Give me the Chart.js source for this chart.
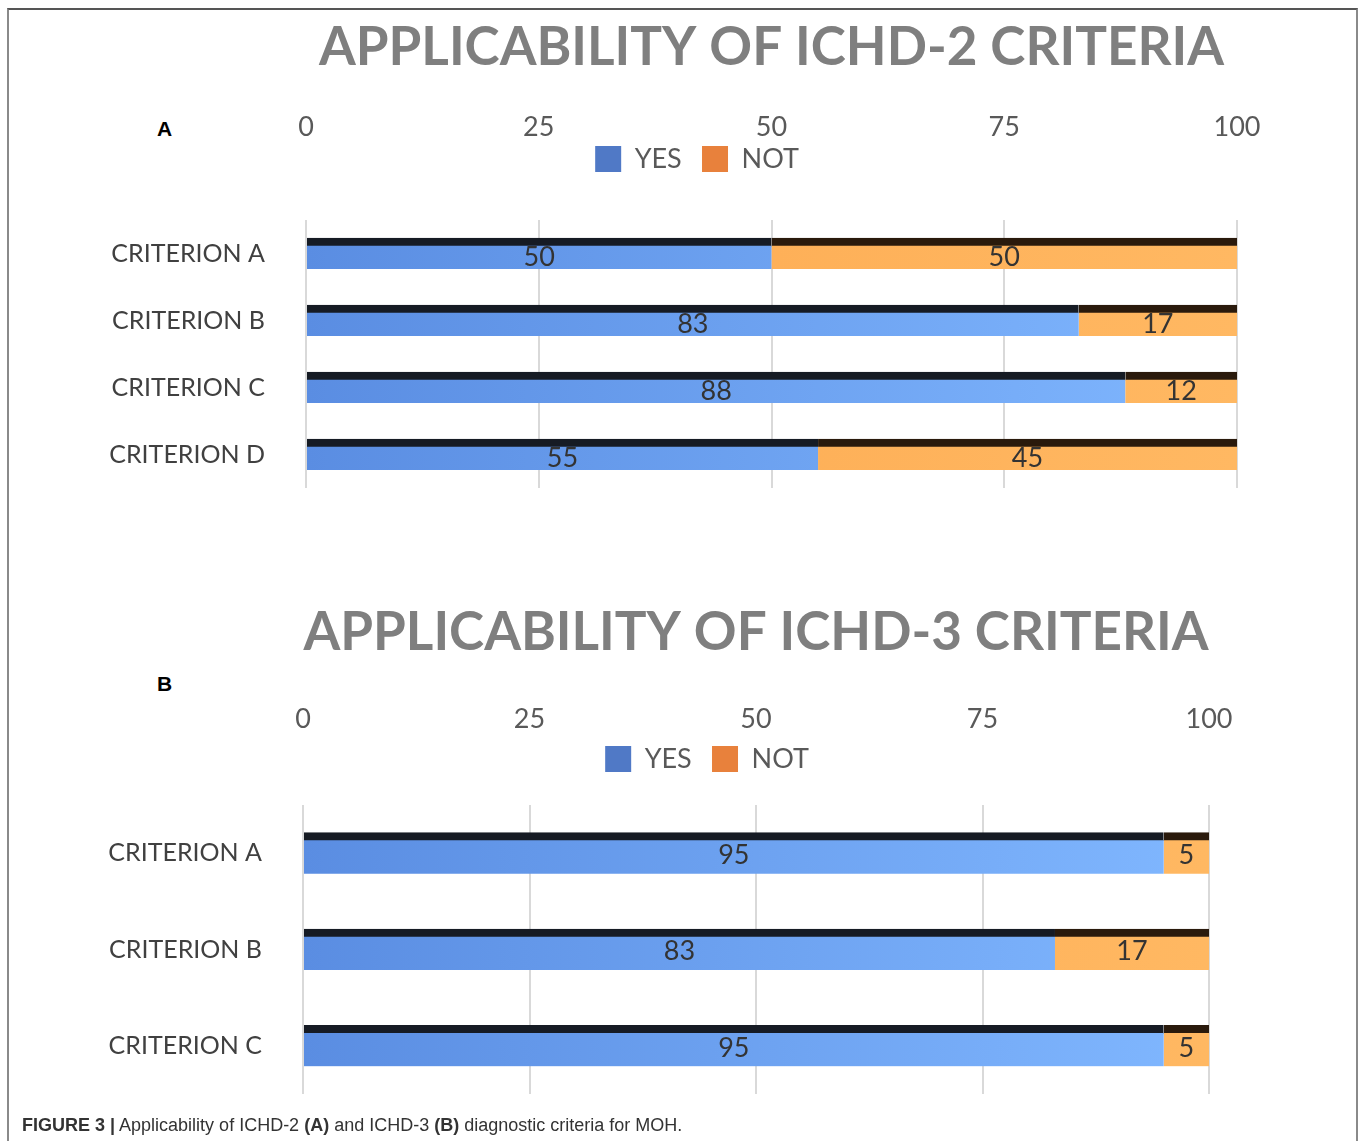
<!DOCTYPE html>
<html>
<head>
<meta charset="utf-8">
<script src="https://cdn.jsdelivr.net/npm/chart.js@4.4.1/dist/chart.umd.min.js"></script>
<style>
  body { margin: 0; background: #fff; width: 1360px; height: 1141px; overflow: hidden; position: relative; }
  #frame { position: absolute; left: 7px; top: 8px; width: 1347px; height: 1140px;
           border-top: 2px solid #555; border-left: 2px solid #8a8a8a; border-right: 2px solid #8a8a8a; }
  .panel { position: absolute; left: 157px; font: bold 21px/21px 'Liberation Sans', Arial, sans-serif; color: #000; }
  canvas { position: absolute; left: 8px; }
  #caption { position: absolute; left: 22px; top: 1116px; font: 18px/18px 'Liberation Sans', Arial, sans-serif; color: #333; }
</style>
</head>
<body>
<div id="frame"></div>
<div class="panel" style="top:118px">A</div>
<div class="panel" style="top:673px">B</div>
<canvas id="chartA" width="1378" height="526" style="top:10px"></canvas>
<canvas id="chartB" width="1398" height="547" style="top:595px"></canvas>
<div id="caption"><b>FIGURE 3 |</b> Applicability of ICHD-2 <b>(A)</b> and ICHD-3 <b>(B)</b> diagnostic criteria for MOH.</div>

<script>
const criteriaA = ['CRITERION A', 'CRITERION B', 'CRITERION C', 'CRITERION D'];
const yesA = [50, 83, 88, 55];
const notA = [50, 17, 12, 45];

const criteriaB = ['CRITERION A', 'CRITERION B', 'CRITERION C'];
const yesB = [95, 83, 95];
const notB = [5, 17, 5];

const seriesNames = ['YES', 'NOT'];
const axisTicks = [0, 25, 50, 75, 100];

const blueStops = ['#5a8de2', '#80b7ff'];
const orangeStops = ['#fda84e', '#ffb862'];
const legendColors = ['#5079c6', '#e8813c'];

// horizontal gradient across the plot, like the shaded 3D bars
function sideFill(stops) {
  return ctx => {
    const area = ctx.chart.chartArea;
    if (!area) return stops[0];
    const g = ctx.chart.ctx.createLinearGradient(area.left, 0, area.right, 0);
    g.addColorStop(0, stops[0]);
    g.addColorStop(1, stops[1]);
    return g;
  };
}

// value written in the middle of each segment
const barLabels = {
  id: 'barLabels',
  afterDatasetsDraw(chart, args, opts) {
    const c = chart.ctx;
    c.save();
    c.font = '27px Lato';
    c.fillStyle = '#333';
    c.textAlign = 'center';
    c.textBaseline = 'middle';
    chart.data.datasets.forEach((ds, i) => {
      chart.getDatasetMeta(i).data.forEach((bar, j) => {
        c.fillText(ds.data[j], (bar.x + bar.base) / 2, bar.y + opts.shift);
      });
    });
    c.restore();
  }
};

function makeChart(id, titleText, labels, yes, not, lay) {
  return new Chart(document.getElementById(id), {
    type: 'bar',
    data: {
      labels: labels,
      datasets: [
        { label: seriesNames[0], data: yes, backgroundColor: sideFill(blueStops), borderColor: '#161b24' },
        { label: seriesNames[1], data: not, backgroundColor: sideFill(orangeStops), borderColor: '#2a1a0c' }
      ]
    },
    options: {
      indexAxis: 'y',
      responsive: false,
      animation: false,
      devicePixelRatio: 1,
      layout: { padding: { top: 6, bottom: 0, left: 0, right: 0 } },
      datasets: {
        bar: { barThickness: lay.bar, borderWidth: { top: 8, right: 0, bottom: 0, left: 0 }, borderSkipped: false }
      },
      scales: {
        x: {
          position: 'top',
          weight: 1500,   // above the legend
          stacked: true,
          min: 0,
          max: 100,
          afterBuildTicks: s => { s.ticks = axisTicks.map(v => ({ value: v })); },
          grid: { color: '#d9d9d9', lineWidth: 2, drawTicks: false },
          border: { display: false },
          ticks: { padding: lay.tickPad, color: '#595959', font: { family: 'Lato', size: 27 } }
        },
        y: {
          stacked: true,
          grid: { display: false },
          border: { display: false },
          afterFit: s => { s.width = lay.yWidth; },
          ticks: { padding: 33, color: '#404040', font: { family: 'Lato', size: 25 } }
        },
        // empty band on the right so the legend sits where it does in the figure
        yPad: {
          type: 'category',
          position: 'right',
          grid: { display: false },
          border: { display: false },
          ticks: { display: false },
          afterFit: s => { s.width = lay.rightGap; }
        }
      },
      plugins: {
        title: {
          display: true,
          text: titleText,
          fullSize: false,
          color: '#7f7f7f',
          font: { family: 'Lato', size: 53, weight: 'bold' },
          padding: { top: 0, bottom: lay.titlePad }
        },
        // empty spacer between the legend and the bars
        subtitle: {
          display: true,
          text: '',
          weight: 500,
          fullSize: false,
          font: { size: 1, lineHeight: 1 },
          padding: { top: lay.gap - 1, bottom: 0 }
        },
        legend: {
          position: 'top',
          labels: {
            boxWidth: 26,
            boxHeight: 26,
            padding: 0,
            color: '#595959',
            font: { family: 'Lato', size: 27 },
            generateLabels: chart => Chart.defaults.plugins.legend.labels.generateLabels(chart)
              .map((item, i) => Object.assign(item, {
                text: i === 0 ? item.text + '\u2003' : item.text,
                fillStyle: legendColors[i], strokeStyle: legendColors[i], lineWidth: 0
              }))
          }
        },
        barLabels: { shift: lay.labelShift },
        tooltip: { enabled: false }
      }
    },
    plugins: [barLabels]
  });
}

makeChart('chartA', 'APPLICABILITY OF ICHD-2 CRITERIA', criteriaA, yesA, notA,
  { yWidth: 298, rightGap: 149, titlePad: 28.9, tickPad: 2.3, gap: 37.5, bar: 31, labelShift: 4 });

makeChart('chartB', 'APPLICABILITY OF ICHD-3 CRITERIA', criteriaB, yesB, notB,
  { yWidth: 295, rightGap: 197, titlePad: 27.9, tickPad: 10.3, gap: 22.5, bar: 41, labelShift: 2 });
</script>
</body>
</html>
